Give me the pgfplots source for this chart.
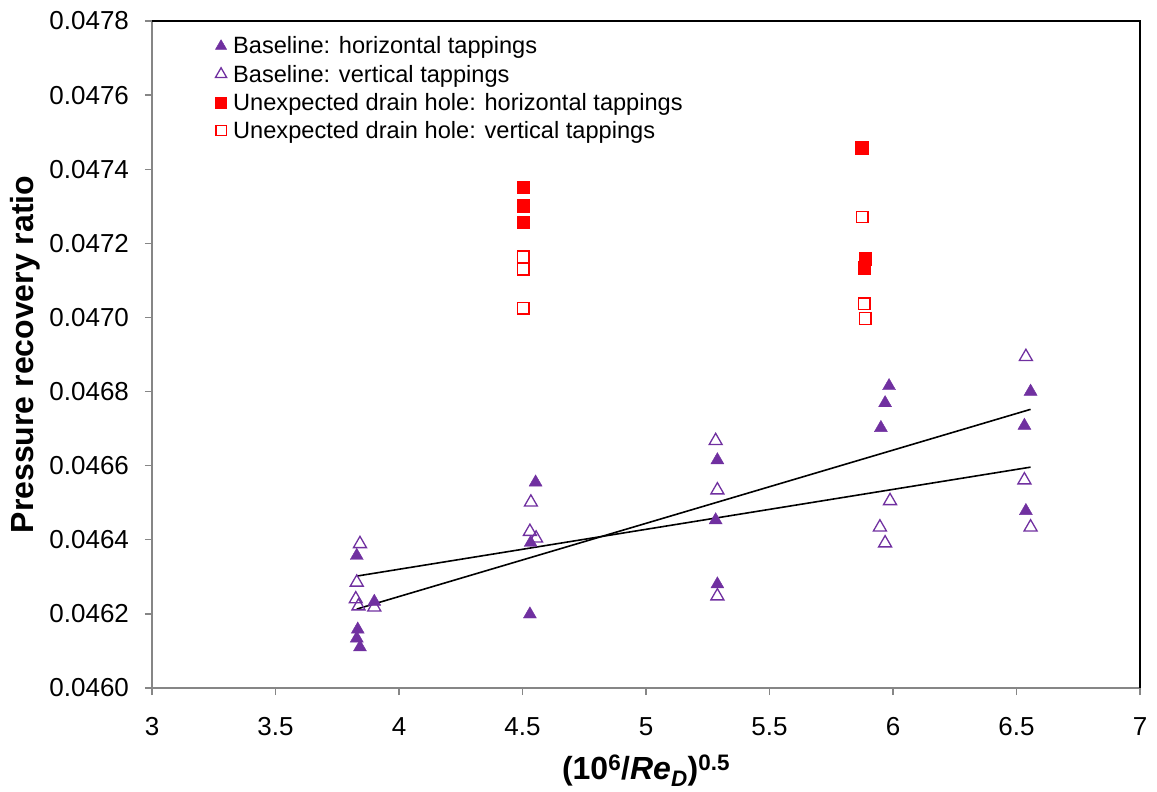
\documentclass[border=0pt]{standalone}
\usepackage{fontspec}
\setmainfont{Liberation Sans}
\usepackage{pgfplots}
\pgfplotsset{compat=1.18}
\definecolor{basepurple}{HTML}{7030A0}
\definecolor{drainred}{HTML}{FF0000}
\definecolor{axisgray}{HTML}{868686}

\begin{document}
\begin{tikzpicture}
\begin{axis}[
  name=ax,
  scale only axis,
  width=988pt, height=667pt,
  xmin=3, xmax=7, ymin=0.0460, ymax=0.0478,
  xtick={3,3.5,4,4.5,5,5.5,6,6.5,7},
  ytick={0.0460,0.0462,0.0464,0.0466,0.0468,0.0470,0.0472,0.0474,0.0476,0.0478},
  axis line style={axisgray, line width=1.8pt},
  tick align=outside, major tick length=7pt,
  tick style={axisgray, line width=1.4pt},
  xtick pos=bottom, ytick pos=left,
  tick label style={font=\fontsize{26}{30}\selectfont},
  /pgf/number format/assume math mode=true,
  scaled y ticks=false,
  yticklabel style={/pgf/number format/fixed, /pgf/number format/precision=4,
    /pgf/number format/fixed zerofill, xshift=-12.5pt},
  xticklabel style={yshift=-19pt},
  xlabel={(10\textsuperscript{6}/\textit{Re\textsubscript{D}})\textsuperscript{0.5}},
  ylabel={Pressure recovery ratio},
  every axis y label/.style={at={(axis description cs:-0.1285,0.5)}, rotate=90, anchor=center,
    font=\fontsize{32}{38}\selectfont\bfseries},
  every axis x label/.style={at={(axis description cs:0.5,-0.1244)}, anchor=center,
    font=\fontsize{32}{38}\selectfont\bfseries},
  legend style={at={(axis description cs:0.064,0.9795)}, anchor=north west,
    draw=none, fill=none, font=\fontsize{23.6}{28}\selectfont, row sep=5.5pt, column sep=4.5pt,
    inner sep=0pt},
  legend cell align=left,
  legend image code/.code={\draw[#1] plot coordinates {(0pt,0pt)};},
]
% Baseline, horizontal tappings
\addplot[only marks, mark=triangle*, draw=basepurple, fill=basepurple,
  mark options={draw=basepurple, fill=basepurple, mark size=7.5pt},
  legend image post style={mark options={mark size=6.5pt}}] coordinates {
  (3.829,0.046357) (3.900,0.046233) (3.833,0.046158) (3.829,0.046134) (3.842,0.046110)
  (4.553,0.046555) (4.533,0.046392) (4.530,0.046199)
  (5.289,0.046615) (5.282,0.046453) (5.289,0.046280)
  (5.984,0.046815) (5.968,0.046769) (5.951,0.046702)
  (6.557,0.046800) (6.532,0.046708) (6.538,0.046478)
};
\addlegendentry{Baseline: horizontal tappings}
% Baseline, vertical tappings
\addplot[only marks, mark=triangle, draw=basepurple, line width=1.3pt,
  mark options={draw=basepurple, mark size=7.5pt},
  legend image post style={mark options={mark size=6.5pt}}] coordinates {
  (3.842,0.046389) (3.829,0.046285) (3.825,0.046240) (3.836,0.046221) (3.900,0.046218)
  (4.534,0.046501) (4.530,0.046422) (4.555,0.046404)
  (5.282,0.046667) (5.289,0.046534) (5.289,0.046248)
  (5.988,0.046505) (5.947,0.046434) (5.968,0.046391)
  (6.538,0.046894) (6.532,0.046561) (6.557,0.046434)
};
\addlegendentry{Baseline: vertical tappings}
% Unexpected drain hole, horizontal tappings
\addplot[only marks, mark=square*, draw=drainred, fill=drainred,
  mark options={draw=drainred, fill=drainred, mark size=6.3pt},
  legend image post style={mark options={mark size=5.4pt}}] coordinates {
  (4.503,0.047351) (4.503,0.047301) (4.503,0.047257)
  (5.873,0.047458) (5.887,0.047159) (5.883,0.047134)
};
\addlegendentry{Unexpected drain hole: horizontal tappings}
% Unexpected drain hole, vertical tappings
\addplot[only marks, mark=square*, draw=drainred, fill=white, line width=1.3pt,
  mark options={draw=drainred, fill=white, mark size=5.8pt},
  legend image post style={mark options={mark size=5.2pt}}] coordinates {
  (4.503,0.047164) (4.503,0.047130) (4.503,0.047025)
  (5.875,0.047271) (5.883,0.047037) (5.887,0.046997)
};
\addlegendentry{Unexpected drain hole: vertical tappings}
% Linear trend lines of the two baseline series
\addplot[black, line width=1.6pt, no marks, forget plot] coordinates {(3.829,0.046213) (6.557,0.046752)};
\addplot[black, line width=1.6pt, no marks, forget plot] coordinates {(3.829,0.046302) (6.557,0.046596)};
\end{axis}
\draw[black, line width=1.8pt] (ax.north west) -- (ax.north east) -- (ax.south east);
\pgfresetboundingbox
\path[use as bounding box] ([shift={(-152pt,-103pt)}]ax.south west) rectangle ([shift={(17pt,21pt)}]ax.north east);
\end{tikzpicture}
\end{document}
